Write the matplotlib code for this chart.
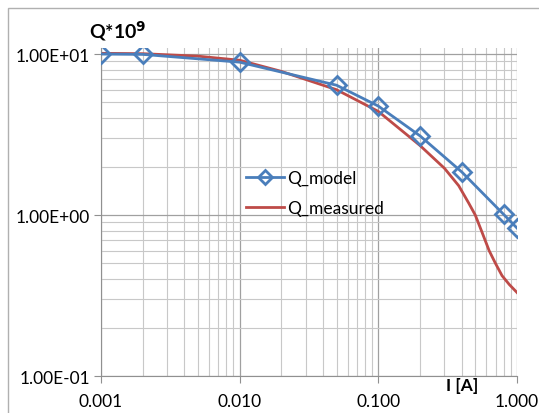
import matplotlib.pyplot as plt
import matplotlib.ticker as mticker
from matplotlib.patches import Rectangle

# data
I_model = [0.001, 0.002, 0.01, 0.05, 0.1, 0.2, 0.4, 0.8, 1.0]
Q_model = [10.0, 9.95, 8.9, 6.4, 4.75, 3.1, 1.85, 1.01, 0.83]

I_meas = [0.001, 0.002, 0.005, 0.01, 0.02, 0.05, 0.1, 0.2, 0.3, 0.38,
          0.45, 0.5, 0.56, 0.63, 0.7, 0.78, 0.88, 1.0]
Q_meas = [10.1, 10.05, 9.7, 9.15, 7.8, 6.0, 4.4, 2.7, 1.95, 1.52,
          1.18, 1.0, 0.78, 0.6, 0.5, 0.42, 0.37, 0.33]

plt.rcParams['font.family'] = ['Lato', 'DejaVu Sans']

fig = plt.figure(figsize=(5.39, 4.14), dpi=100)
ax = fig.add_axes([101/539, 1-377/414, (517-101)/539, (377-49)/414])

# chart frame
fig.patches.append(Rectangle((8/539, -0.1), 1.2, 1-9/414+0.1, transform=fig.transFigure,
                             fill=False, edgecolor='#b0b0b0', linewidth=1))

ax.plot(I_model, Q_model, color='#4a7ebb', linewidth=2, marker='D', markersize=9,
        markerfacecolor='none', markeredgewidth=2, label='Q_model', zorder=3)
ax.plot(I_meas, Q_meas, color='#be4b48', linewidth=2, label='Q_measured', zorder=2)

ax.set_xscale('log')
ax.set_yscale('log')
ax.set_xlim(0.001, 1.0)
ax.set_ylim(0.1, 10.9)

ax.xaxis.set_major_locator(mticker.LogLocator(base=10, numticks=10))
ax.xaxis.set_minor_locator(mticker.LogLocator(base=10, subs=range(2, 10), numticks=20))
ax.yaxis.set_major_locator(mticker.LogLocator(base=10, numticks=10))
ax.yaxis.set_minor_locator(mticker.LogLocator(base=10, subs=range(2, 10), numticks=20))
ax.xaxis.set_major_formatter(mticker.FuncFormatter(lambda v, p: '%.3f' % v))
ax.yaxis.set_major_formatter(mticker.FuncFormatter(lambda v, p: '%.2E' % v))
ax.xaxis.set_minor_formatter(mticker.NullFormatter())
ax.yaxis.set_minor_formatter(mticker.NullFormatter())

ax.grid(which='major', color='#a0a0a0', linewidth=0.9)
ax.grid(which='minor', color='#c8c8c8', linewidth=0.8)
ax.tick_params(which='major', direction='out', length=5, color='#909090',
               labelsize=12.5, pad=3)
ax.tick_params(axis='x', pad=7)
ax.tick_params(which='minor', length=0)
for s in ['top', 'right']:
    ax.spines[s].set_visible(False)
for s in ['left', 'bottom']:
    ax.spines[s].set_color('#909090')

fig.text(89/539, 1-31/414, r'Q*10$^{\mathbf{9}}$', fontsize=14, fontweight='bold', va='center')
fig.text(462/539, 1-386/414, 'I [A]', fontsize=12.5, fontweight='bold', ha='center', va='center')

ax.legend(loc='upper left', bbox_to_anchor=(0.31, 0.675), frameon=False, fontsize=12.5,
          handlelength=2.2, handletextpad=0.2, labelspacing=0.8, markerscale=0.8)

fig.savefig('out.png', dpi=100)
